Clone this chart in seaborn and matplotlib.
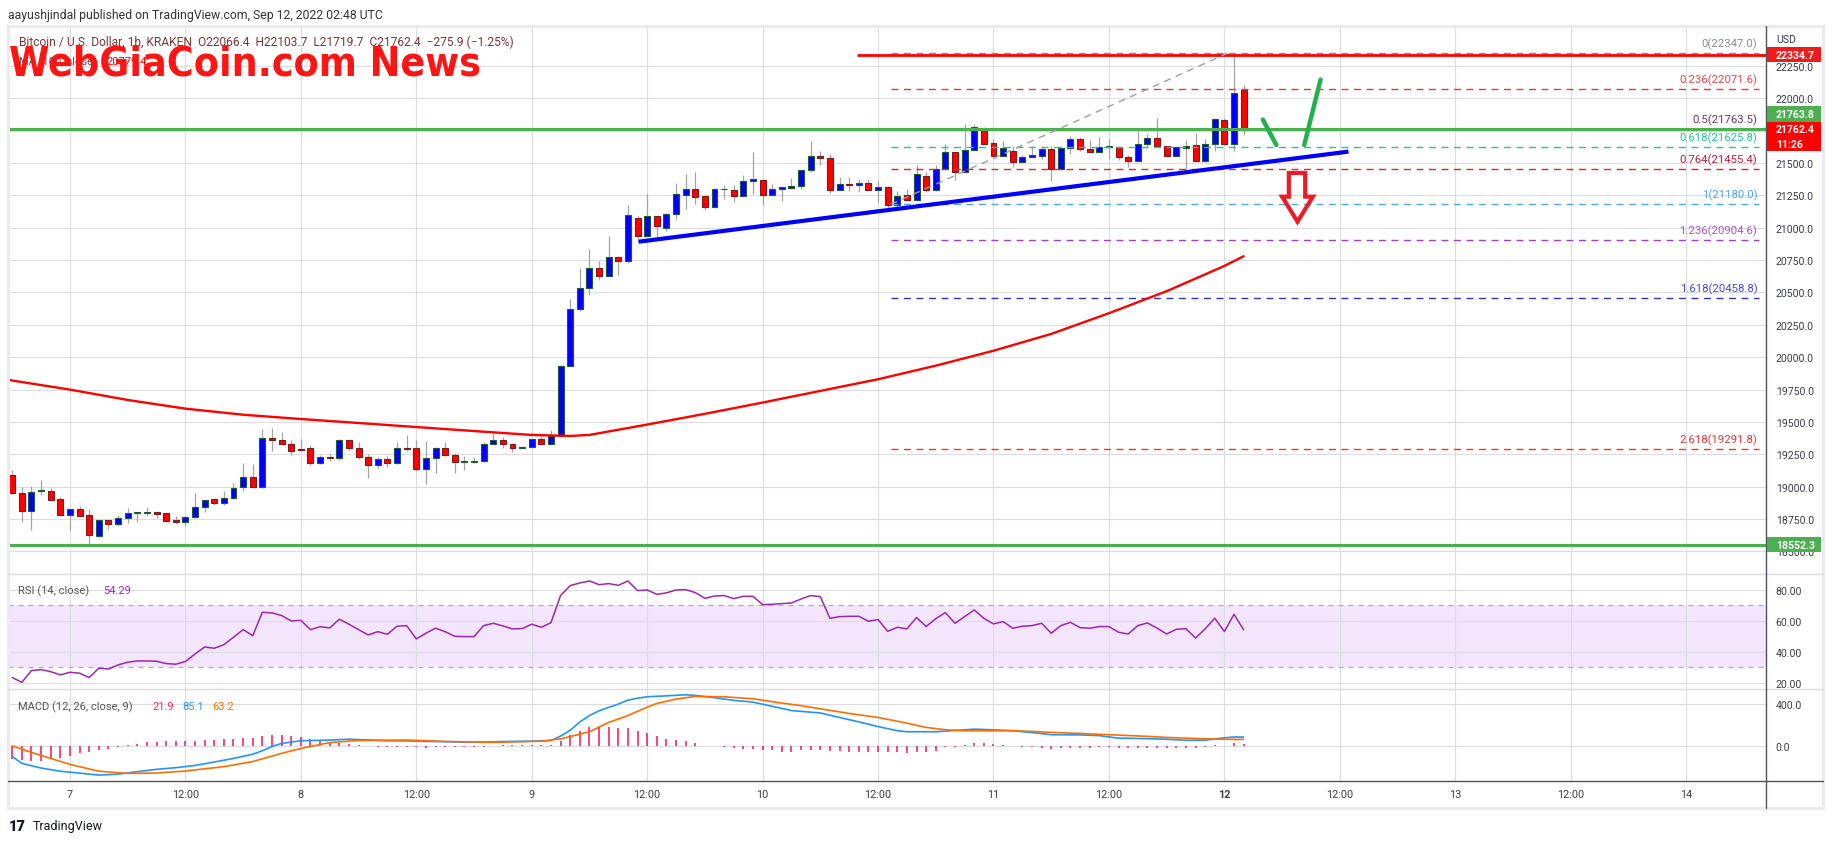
import numpy as np
import pandas as pd
import matplotlib
matplotlib.use("Agg")
import matplotlib.pyplot as plt
import seaborn as sns
from matplotlib import font_manager
from matplotlib.font_manager import FontProperties
from matplotlib.lines import Line2D
from matplotlib.patches import Rectangle, Polygon

# hourly candles, Sep 6 18:00 -> Sep 12 02:00 UTC (BTC/USD, KRAKEN, 1h)
opens = [19094, 18950, 18816, 18965, 18970, 18906, 18785, 18826, 18780, 18617,
         18741, 18715, 18756, 18795, 18800, 18803, 18795, 18741, 18730, 18764,
         18841, 18903, 18872, 18911, 18998, 19073, 18996, 19379, 19364, 19333,
         19290, 19297, 19181, 19233, 19220, 19359, 19297, 19228, 19166, 19217,
         19181, 19302, 19302, 19135, 19225, 19302, 19248, 19189, 19194, 19199,
         19333, 19359, 19333, 19302, 19310, 19366, 19333, 19392, 19935, 20370,
         20532, 20687, 20630, 20772, 20741, 21073, 20939, 21089, 21001, 21104,
         21256, 21297, 21243, 21163, 21297, 21289, 21248, 21359, 21367, 21256,
         21297, 21310, 21320, 21444, 21552, 21536, 21294, 21336, 21333, 21343,
         21289, 21312, 21173, 21251, 21212, 21400, 21295, 21454, 21583, 21428,
         21598, 21758, 21652, 21552, 21591, 21506, 21544, 21557, 21606, 21454,
         21614, 21683, 21606, 21583, 21622, 21622, 21544, 21513, 21645, 21691,
         21629, 21552, 21616, 21636, 21513, 21645, 21832, 21645, 22066]
highs = [19130, 18996, 19009, 19052, 18988, 18924, 18830, 18849, 18826, 18745,
         18745, 18785, 18834, 18808, 18844, 18808, 18800, 18772, 18772, 18950,
         18900, 18911, 18965, 19029, 19184, 19176, 19446, 19451, 19423, 19359,
         19369, 19323, 19245, 19253, 19369, 19362, 19348, 19253, 19233, 19240,
         19348, 19400, 19364, 19354, 19305, 19343, 19261, 19235, 19227, 19343,
         19433, 19382, 19336, 19318, 19366, 19390, 19438, 19940, 20450, 20690,
         20836, 20746, 20939, 20785, 21173, 21089, 21261, 21089, 21114, 21346,
         21415, 21431, 21243, 21307, 21330, 21330, 21408, 21585, 21367, 21338,
         21312, 21385, 21444, 21668, 21593, 21570, 21390, 21390, 21377, 21377,
         21364, 21325, 21284, 21297, 21485, 21428, 21485, 21645, 21583, 21802,
         21802, 21776, 21686, 21670, 21629, 21565, 21629, 21629, 21629, 21629,
         21709, 21699, 21676, 21701, 21686, 21629, 21565, 21753, 21724, 21848,
         21629, 21629, 21678, 21732, 21686, 21848, 21848, 22347, 22104]
lows = [18945, 18731, 18669, 18939, 18895, 18780, 18669, 18770, 18558, 18615,
        18674, 18700, 18720, 18730, 18777, 18760, 18735, 18710, 18695, 18760,
        18803, 18859, 18859, 18905, 18970, 18994, 18994, 19279, 19330, 19245,
        19279, 19171, 19175, 19200, 19210, 19287, 19215, 19065, 19142, 19150,
        19178, 19279, 19125, 19019, 19104, 19245, 19104, 19130, 19181, 19189,
        19330, 19302, 19266, 19297, 19305, 19330, 19330, 19390, 19935, 20355,
        20481, 20597, 20630, 20638, 20725, 20908, 20939, 20926, 20978, 21068,
        21145, 21186, 21140, 21163, 21222, 21202, 21235, 21263, 21179, 21256,
        21210, 21297, 21302, 21433, 21487, 21266, 21294, 21287, 21274, 21289,
        21197, 21145, 21158, 21212, 21210, 21274, 21287, 21454, 21372, 21428,
        21598, 21645, 21552, 21552, 21467, 21506, 21544, 21531, 21364, 21454,
        21570, 21596, 21583, 21583, 21531, 21526, 21472, 21513, 21614, 21629,
        21552, 21552, 21454, 21513, 21513, 21591, 21645, 21596, 21720]
closes = [18950, 18816, 18957, 18972, 18900, 18785, 18826, 18777, 18625, 18741,
          18715, 18756, 18795, 18800, 18803, 18790, 18738, 18730, 18764, 18841,
          18896, 18872, 18911, 18993, 19073, 18996, 19379, 19364, 19333, 19274,
          19287, 19181, 19233, 19220, 19359, 19297, 19228, 19166, 19217, 19181,
          19302, 19292, 19135, 19225, 19302, 19248, 19189, 19194, 19199, 19333,
          19359, 19333, 19302, 19310, 19366, 19333, 19392, 19935, 20370, 20532,
          20687, 20630, 20772, 20741, 21096, 20939, 21089, 21011, 21104, 21258,
          21297, 21240, 21163, 21297, 21300, 21248, 21359, 21377, 21256, 21297,
          21312, 21320, 21444, 21552, 21536, 21294, 21336, 21333, 21343, 21289,
          21312, 21173, 21243, 21212, 21416, 21295, 21452, 21583, 21428, 21598,
          21776, 21645, 21552, 21614, 21506, 21544, 21562, 21606, 21454, 21614,
          21683, 21606, 21583, 21622, 21624, 21544, 21513, 21645, 21691, 21629,
          21552, 21622, 21632, 21513, 21645, 21840, 21645, 22041, 21762]

rsi = [23.5, 20.4, 28.0, 28.6, 27.3, 25.2, 26.9, 26.3, 23.5, 29.5,
       29.0, 31.6, 33.4, 34.2, 34.2, 34.0, 32.5, 32.1, 33.8, 38.7,
       43.2, 42.4, 44.7, 49.5, 54.4, 50.5, 65.6, 65.2, 63.5, 60.0,
       60.4, 54.4, 56.3, 55.5, 61.1, 57.9, 54.4, 51.0, 53.1, 51.4,
       56.6, 57.0, 48.4, 52.1, 55.3, 53.1, 50.1, 49.9, 49.9, 57.0,
       58.5, 56.8, 54.9, 55.1, 57.9, 55.9, 58.9, 76.4, 82.8, 84.5,
       85.8, 83.4, 84.1, 83.0, 85.8, 79.6, 80.0, 77.2, 78.1, 80.0,
       80.2, 78.3, 74.6, 76.1, 76.4, 74.4, 75.9, 75.9, 70.5, 70.8,
       71.2, 71.6, 74.2, 76.4, 75.7, 61.7, 62.8, 63.0, 63.0, 59.8,
       60.9, 53.3, 55.9, 54.9, 62.2, 56.4, 61.5, 65.4, 58.5, 62.8,
       67.1, 61.7, 58.1, 59.6, 55.3, 56.6, 57.0, 58.5, 52.1, 57.0,
       59.1, 55.7, 55.3, 56.4, 56.4, 52.7, 51.6, 57.0, 58.7, 55.4,
       51.6, 54.6, 55.0, 49.0, 54.9, 61.8, 53.2, 64.3, 54.3]

macd_hist = [-124, -130, -140, -140, -124, -114, -92, -70, -54, -41,
             -29, -13, 10, 22, 35, 41, 48, 48, 44, 48,
             54, 60, 64, 67, 73, 76, 98, 105, 108, 98,
             89, 70, 54, 41, 32, 22, 10, 3, -6, -6,
             -6, -6, -13, -16, -13, -10, -13, -10, -13, -10,
             3, 10, 10, 13, 13, 10, 13, 51, 105, 140,
             178, 190, 178, 171, 171, 143, 124, 95, 67, 57,
             48, 29, 3, -3, -10, -19, -29, -29, -41, -41,
             -54, -54, -41, -41, -35, -44, -44, -54, -54, -54,
             -60, -60, -60, -67, -54, -54, -44, -6, -6, 10,
             29, 29, 19, 10, 3, -13, -13, -22, -25, -19,
             -16, -16, -16, -13, -13, -19, -19, -19, -16, -16,
             -16, -16, -22, -22, -13, 10, -3, 25, 22]

# MACD and signal lines, read at these candle numbers (1 = first candle)
macd_at = [1, 2, 4, 6, 8, 10, 12, 14, 16, 18, 20, 22, 24, 26, 27, 28, 29, 31, 34, 36,
           38, 40, 42, 44, 46, 48, 50, 52, 55, 57, 58, 59, 60, 61, 62, 63, 64, 65, 66, 67,
           69, 71, 72, 74, 76, 78, 80, 82, 84, 85, 87, 89, 91, 93, 94, 97, 99, 101, 103, 105,
           107, 109, 112, 114, 116, 118, 121, 123, 125, 127, 128, 129]
macd_vals = [-99, -165, -210, -240, -258, -277, -268, -244, -222, -206, -185, -152, -118, -78, -45, -5, 25, 50, 57, 65,
             58, 50, 49, 44, 41, 36, 38, 43, 46, 52, 95, 150, 230, 290, 335, 368, 399, 437, 455, 469,
             478, 488, 482, 460, 435, 418, 378, 338, 322, 315, 272, 230, 185, 146, 136, 136, 148, 161, 154, 146,
             128, 108, 106, 99, 75, 72, 65, 55, 56, 78, 86, 85]
signal_at = [1, 3, 5, 7, 10, 13, 16, 19, 23, 26, 29, 31, 34, 37, 42, 46, 51, 56, 58, 61,
             63, 65, 67, 68, 70, 72, 75, 78, 80, 83, 86, 88, 91, 94, 96, 98, 100, 105, 107, 109,
             112, 114, 116, 119, 121, 124, 126, 128, 129]
signal_vals = [2, -61, -118, -175, -240, -261, -257, -238, -196, -148, -70, -23, 33, 53, 57, 44, 35, 46, 68, 136,
               225, 290, 370, 405, 447, 472, 469, 450, 422, 384, 340, 310, 272, 218, 177, 155, 146, 145, 139, 130,
               120, 111, 104, 92, 82, 72, 66, 63, 63]

# 100 SMA (red), hours from Sep 7 00:00
sma_hours = [-6.5, -6, 0, 6, 12, 18, 24, 30, 36, 42, 48, 52, 54, 60, 66, 72, 78, 84, 90, 96,
             102, 108, 114, 120, 122]
sma_vals = [19828, 19820, 19750, 19670, 19603, 19556, 19523, 19492, 19461, 19430, 19400, 19392, 19400, 19480,
            19563, 19650, 19740, 19830, 19935, 20050, 20180, 20340, 20510, 20705, 20780]

# fibonacci retracement drawn from 21180 up to 22347
fib_ratios = ["0", "0.236", "0.5", "0.618", "0.764", "1", "1.236", "1.618", "2.618"]
fib_prices = [22347.0, 22071.6, 21763.5, 21625.8, 21455.4, 21180.0, 20904.6, 20458.8, 19291.8]
fib_line_colors = ["#8a8d96", "#f0323c", "#4caf50", "#22c59b", "#e8202a", "#4fa9e0", "#9c40d0", "#3434c4", "#e53935"]
fib_text_colors = ["#8a8d96", "#e04848", "#6a3a52", "#22c59b", "#b3203c", "#4fa9e0", "#a650d8", "#4a4ad0", "#d83a3a"]
fib_hours = [85.3, 175.6]
fib_diag_hours = [85.3, 120.3]

resistance = 22334.7
supports = [21763.8, 18552.3]
last_price = 21762.4

trend_hours = [59.1, 132.9]
trend_prices = [20892, 21588]

# hand drawn marks (hours, price)
tick1_h, tick1_p = [124.0, 125.4], [21835, 21639]
tick2_h, tick2_p = [128.3, 130.0], [21639, 22144]
arrow_h = [126.7, 128.4, 128.4, 129.2, 127.6, 126.0, 126.7]
arrow_p = [21423, 21423, 21240, 21240, 21047, 21240, 21240]

day_labels = ["7", "12:00", "8", "12:00", "9", "12:00", "10", "12:00",
              "11", "12:00", "12", "12:00", "13", "12:00", "14"]

sns.set_theme(style="white")
plt.rcParams["font.family"] = ["Roboto", "DejaVu Sans"]

W, H = 1834, 845
fig = plt.figure(figsize=(W / 100, H / 100), dpi=100)
fig.patch.set_facecolor("white")

L, R = 8, 1766
TXT = "#3a3d45"
GRID = "#dcdde0"


def axes_px(top, bottom):
    return fig.add_axes([L / W, 1 - bottom / H, (R - L) / W, (bottom - top) / H])


ax_p = axes_px(27, 575)
ax_r = axes_px(575, 690)
ax_m = axes_px(690, 782)

times = pd.date_range("2022-09-06 18:00", periods=len(opens), freq="h")
hours = ((times - pd.Timestamp("2022-09-07")) / pd.Timedelta(hours=1)).to_numpy()

df = pd.DataFrame({"h": hours, "open": opens, "high": highs, "low": lows, "close": closes})
up = df["close"] >= df["open"]
body_lo = df[["open", "close"]].min(axis=1)
body_hi = df[["open", "close"]].max(axis=1)
body_h = np.maximum(body_hi - body_lo, 6)

xmin, xmax = -6.44, 176.3
xt = np.arange(0, 169, 12)

for ax in (ax_p, ax_r, ax_m):
    ax.set_xlim(xmin, xmax)
    ax.set_facecolor("white")
    for s in ax.spines.values():
        s.set_visible(False)
    ax.set_xticks(xt)
    ax.grid(True, color=GRID, lw=0.8)
    ax.set_axisbelow(True)
    ax.yaxis.tick_right()
    ax.tick_params(axis="y", length=0, pad=7, labelsize=7.6, labelcolor=TXT)
    ax.tick_params(axis="x", length=0)

# ---- price pane
ax_p.set_ylim(18326, 22558)
ax_p.set_yticks(np.arange(18500, 22251, 250))
ax_p.set_yticklabels([f"{v:.1f}" for v in np.arange(18500, 22251, 250)])
ax_p.tick_params(axis="x", labelbottom=False)

ax_p.vlines(df["h"], df["low"], df["high"], color="#a4a4a4", lw=0.9, zorder=2)
ax_p.bar(df["h"][up], body_h[up], bottom=body_lo[up], width=0.62, color="#0000ff",
         edgecolor="#1f5a34", lw=0.8, zorder=3)
ax_p.bar(df["h"][~up], body_h[~up], bottom=body_lo[~up], width=0.62, color="#ff0000",
         edgecolor="#7a1c1c", lw=0.8, zorder=3)

sns.lineplot(x=sma_hours, y=sma_vals, ax=ax_p, color="#ff0000", lw=1.7, zorder=4)

for lvl in supports:
    ax_p.axhline(lvl, color="#4caf50", lw=2.2, zorder=4)
ax_p.hlines(resistance, 81.8, xmax, color="#ff0000", lw=2.0, zorder=4)

for ratio, price, lc, tc in zip(fib_ratios, fib_prices, fib_line_colors, fib_text_colors):
    ax_p.hlines(price, fib_hours[0], fib_hours[1], color=lc, lw=1.0,
                linestyles=(0, (5, 4)), zorder=3)
    ax_p.annotate(f"{ratio}({price:.1f})", (175.4, price), xytext=(0, 3),
                  textcoords="offset points", ha="right", va="bottom",
                  fontsize=8.2, color=tc, zorder=6)

ax_p.plot(fib_diag_hours, [fib_prices[5], fib_prices[0]], color="#9e9e9e", lw=1.0,
          ls=(0, (5, 4)), zorder=4)
ax_p.plot(trend_hours, trend_prices, color="#0000ff", lw=3.0, zorder=5, solid_capstyle="butt")
ax_p.plot(tick1_h, tick1_p, color="#22b14c", lw=3.2, solid_capstyle="round", zorder=6)
ax_p.plot(tick2_h, tick2_p, color="#22b14c", lw=3.2, solid_capstyle="round", zorder=6)
ax_p.add_patch(Polygon(list(zip(arrow_h, arrow_p)), closed=True, fill=False,
                       edgecolor="#ed1c24", lw=3.0, joinstyle="miter", zorder=6))

# ---- RSI pane
ax_r.set_ylim(16.1, 90.3)
ax_r.set_yticks([20, 40, 60, 80])
ax_r.set_yticklabels(["20.00", "40.00", "60.00", "80.00"])
ax_r.tick_params(axis="x", labelbottom=False)
ax_r.axhspan(30, 70, color="#f3e5fc", zorder=0.5, lw=0)
for lvl in (30, 70):
    ax_r.axhline(lvl, color="#b4a8bc", lw=0.9, ls=(0, (4, 4)), zorder=1)
sns.lineplot(x=hours, y=rsi, ax=ax_r, color="#9c27b0", lw=1.1, zorder=3)

# ---- MACD pane
ax_m.set_ylim(-333, 543)
ax_m.set_yticks([0, 400])
ax_m.set_yticklabels(["0.0", "400.0"])
ax_m.vlines(hours, 0, macd_hist, color="#f0286e", lw=1.2, zorder=2)
sns.lineplot(x=np.array(macd_at) - 7, y=macd_vals, ax=ax_m, color="#2196f3", lw=1.2, zorder=3)
sns.lineplot(x=np.array(signal_at) - 7, y=signal_vals, ax=ax_m, color="#ff6d00", lw=1.2, zorder=3)
ax_m.set_xticklabels(day_labels)
ax_m.tick_params(axis="x", pad=6, labelsize=7.8, labelcolor=TXT)
for lab in ax_m.get_xticklabels():
    if lab.get_text() == "12":
        lab.set_fontweight("bold")

for ax in (ax_p, ax_r, ax_m):
    ax.set_xlabel("")
    ax.set_ylabel("")


# ---- frame lines
def fig_line(x0, x1, y0, y1, color, lw):
    fig.add_artist(Line2D([x0 / W, x1 / W], [1 - y0 / H, 1 - y1 / H], transform=fig.transFigure,
                          color=color, lw=lw, zorder=4))


fig.add_artist(Rectangle((L / W, 1 - 809 / H), (1823 - L) / W, (809 - 27) / H, transform=fig.transFigure,
                         fill=False, edgecolor="#e9ebf0", lw=2.2, zorder=4))
fig_line(L, 1823, 575, 575, "#d8dae0", 1.0)
fig_line(L, 1823, 690, 690, "#d8dae0", 1.0)
fig_line(L, 1823, 782, 782, "#50535e", 1.0)
fig_line(R, R, 27, 809, "#50535e", 1.0)


# ---- price tags on the right scale
def tag(value, color, lines, shift=0, height=15):
    yc = ax_p.transData.transform((0, value))[1] + shift
    fig.add_artist(Rectangle((1767 / W, (yc - height / 2) / H), 54 / W, height / H,
                             transform=fig.transFigure, facecolor=color, edgecolor="none", zorder=5))
    n = len(lines)
    for k, s in enumerate(lines):
        ty = yc + height / 2 - (k + 0.5) * height / n
        fig.text(1776 / W, ty / H, s, color="white", fontsize=7.6, fontweight="bold",
                 va="center", ha="left", zorder=6)


tag(resistance, "#f21a1a", [f"{resistance:.1f}"])
tag(supports[0], "#4caf50", [f"{supports[0]:.1f}"], shift=15, height=16)
tag(last_price, "#ff0000", [f"{last_price:.1f}", "11:26"], shift=-7.5, height=29)
tag(supports[1], "#4caf50", [f"{supports[1]:.1f}"])
fig.text(1776 / W, 1 - 40 / H, "USD", fontsize=7.6, color=TXT, va="center")


def fit_width(t, target):
    fig.canvas.draw()
    w = t.get_window_extent().width
    t.set_fontsize(t.get_fontsize() * target / w)


# ---- header / legends
hdr = fig.text(8 / W, 1 - 15 / H, "aayushjindal published on TradingView.com, Sep 12, 2022 02:48 UTC",
               fontsize=8, color="#333333", va="center")
fit_width(hdr, 376)
ttl = fig.text(19 / W, 1 - 42 / H,
               "Bitcoin / U.S. Dollar, 1h, KRAKEN  O22066.4  H22103.7  L21719.7  C21762.4  \u2212275.9 (\u22121.25%)",
               fontsize=8, color="#7b3434", va="center")
fit_width(ttl, 495)
fig.text(19 / W, 1 - 62 / H, "MA (100, close)", fontsize=8, color="#555555", va="center")
fig.text(106 / W, 1 - 62 / H, "20779.4", fontsize=8, color="#ff0000", va="center")


def narrow_bold_font():
    # a bold narrow / condensed face for the watermark, if one is installed
    for f in font_manager.fontManager.ttflist:
        nm = (f.name + " " + f.fname).lower()
        stretch = f.stretch if isinstance(f.stretch, str) else str(f.stretch)
        narrow = ("narrow" in nm or "condensed" in nm or "condensed" in stretch)
        w = f.weight if isinstance(f.weight, int) else font_manager.weight_dict.get(f.weight, 400)
        if narrow and w >= 700:
            return FontProperties(fname=f.fname)
    return FontProperties(family="DejaVu Serif", weight="bold")


wm_font = narrow_bold_font()
wm_font.set_size(40)
wm = fig.text(9 / W, 1 - 75 / H, "WebGiaCoin.com News", color="#ff1414",
              fontproperties=wm_font, va="baseline", zorder=7)
fit_width(wm, 471)

fig.text(18 / W, 1 - 591 / H, "RSI (14, close)", fontsize=8, color="#555555", va="center")
fig.text(103 / W, 1 - 591 / H, "54.29", fontsize=8, color="#9c27b0", va="center")
fig.text(18 / W, 1 - 707 / H, "MACD (12, 26, close, 9)", fontsize=8, color="#555555", va="center")
fig.text(152 / W, 1 - 707 / H, "21.9", fontsize=8, color="#f0286e", va="center")
fig.text(182 / W, 1 - 707 / H, "85.1", fontsize=8, color="#2196f3", va="center")
fig.text(212 / W, 1 - 707 / H, "63.2", fontsize=8, color="#ff6d00", va="center")

fig.text(9 / W, 1 - 827 / H, "17", fontsize=10.5, fontweight="black", color="#131722", va="center")
fig.text(33 / W, 1 - 827 / H, "TradingView", fontsize=9, color="#131722", va="center")

fig.savefig("out.png", dpi=100, facecolor="white")
